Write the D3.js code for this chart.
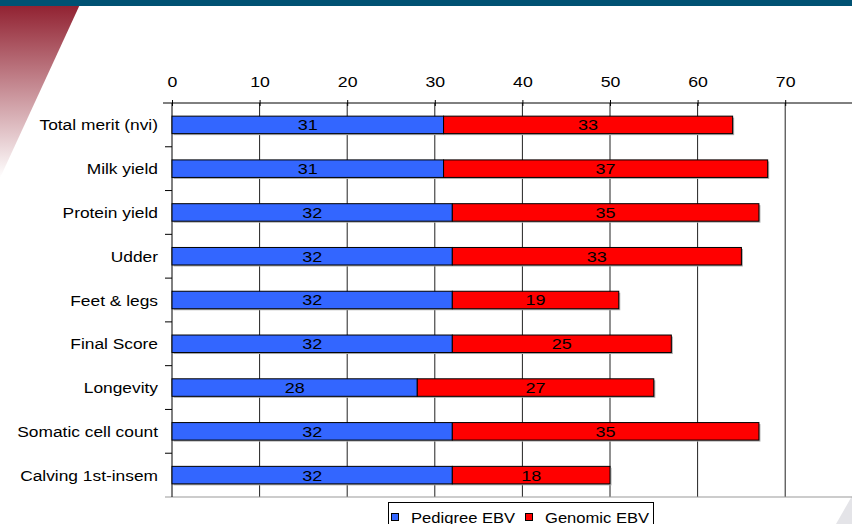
<!DOCTYPE html>
<html lang='en'>
    <head>
        <meta charset="utf-8">
        <title>Pedigree vs Genomic EBV</title>
        <script src='https://d3js.org/d3.v7.min.js'></script>
        <style>
            body { margin: 0; background: #fff; }
            svg { display: block; font-family: 'Liberation Sans', Arial, sans-serif; }
        </style>
    </head>
    <body>
        <script type='text/javascript'>
            var w = 852;
            var h = 524;

            // data
            var categories = ['Total merit (nvi)', 'Milk yield', 'Protein yield', 'Udder', 'Feet & legs',
                              'Final Score', 'Longevity', 'Somatic cell count', 'Calving 1st-insem'];
            var pedigree = [31, 31, 32, 32, 32, 32, 28, 32, 32];
            var genomic = [33, 37, 35, 33, 19, 25, 27, 35, 18];
            var xTicks = [0, 10, 20, 30, 40, 50, 60, 70];
            var seriesNames = ['Pedigree EBV', 'Genomic EBV'];
            var colors = ['#3366ff', '#ff0000'];

            var plotLeft = 172, plotTop = 103, plotBottom = 497;

            // the original slide text is a bit wider than plain Arial
            function stretched(x, y, sx) {
                return 'translate(' + x + ',' + y + ') scale(' + sx + ',1)';
            }

            var xScale = d3.scaleLinear()
                .domain([0, 80])
                .range([plotLeft, plotLeft + 80 * 8.76]);

            var yScale = d3.scaleBand()
                .domain(categories)
                .range([plotTop, plotBottom])
                .paddingInner(0.6)
                .paddingOuter(0.3);

            var svg = d3.select('body')
                        .append('svg')
                        .attr('width', w)
                        .attr('height', h);

            // background decoration
            var defs = svg.append('defs');
            var grad = defs.append('linearGradient')
                .attr('id', 'redfade')
                .attr('x1', 0).attr('y1', 0).attr('x2', 0).attr('y2', 1);
            grad.append('stop').attr('offset', '0%').attr('stop-color', '#8e1b2b');
            grad.append('stop').attr('offset', '100%').attr('stop-color', '#ffffff');
            svg.append('path')
                .attr('d', 'M0,0 L82,0 L0,178 Z')
                .attr('fill', 'url(#redfade)');
            svg.append('rect')
                .attr('x', 0).attr('y', 0)
                .attr('width', w).attr('height', 6)
                .attr('fill', '#005273');
            svg.append('path')
                .attr('d', 'M852,496 L852,524 L836,524 Z')
                .attr('fill', '#e4e4e8');

            // vertical gridlines
            svg.selectAll('line.grid')
                .data(xTicks.slice(1))
                .enter()
                .append('line')
                .attr('class', 'grid')
                .attr('x1', function(d){ return xScale(d); })
                .attr('x2', function(d){ return xScale(d); })
                .attr('y1', plotTop)
                .attr('y2', plotBottom)
                .attr('stroke', '#222')
                .attr('stroke-width', 1);

            // top axis, ticks cross the line
            var xAxis = d3.axisTop(xScale)
                .tickValues(xTicks)
                .tickSize(3)
                .tickSizeOuter(0);
            var gx = svg.append('g')
                .attr('transform', 'translate(0,' + plotTop + ')')
                .call(xAxis);
            gx.select('.domain').remove();
            gx.append('line')
                .attr('x1', plotLeft - 9).attr('x2', w)
                .attr('y1', 0).attr('y2', 0)
                .attr('stroke', '#000');
            gx.selectAll('.tick line')
                .attr('y1', 3)
                .attr('stroke', '#000');
            gx.selectAll('.tick text')
                .attr('font-size', '15px')
                .attr('fill', '#000')
                .attr('font-family', 'Liberation Sans, Arial, sans-serif')
                .attr('y', null)
                .attr('dy', null)
                .attr('transform', stretched(0, -15.7, 1.18));

            // bottom line
            svg.append('line')
                .attr('x1', plotLeft - 7).attr('x2', w)
                .attr('y1', plotBottom).attr('y2', plotBottom)
                .attr('stroke', '#999');

            // left axis
            svg.append('line')
                .attr('x1', plotLeft).attr('x2', plotLeft)
                .attr('y1', plotTop).attr('y2', plotBottom)
                .attr('stroke', '#000');
            var boundaries = categories.map(function(d, i){ return i; }).slice(1);
            var bandH = (plotBottom - plotTop) / categories.length;
            svg.selectAll('line.ytick')
                .data(boundaries)
                .enter()
                .append('line')
                .attr('class', 'ytick')
                .attr('x1', plotLeft - 7).attr('x2', plotLeft)
                .attr('y1', function(d){ return plotTop + d * bandH; })
                .attr('y2', function(d){ return plotTop + d * bandH; })
                .attr('stroke', '#000');

            svg.selectAll('text.cat')
                .data(categories)
                .enter()
                .append('text')
                .attr('class', 'cat')
                .attr('transform', function(d){
                    return stretched(158, yScale(d) + yScale.bandwidth() / 2, 1.12);
                })
                .attr('dy', '0.36em')
                .attr('text-anchor', 'end')
                .attr('font-size', '15.5px')
                .attr('fill', '#000')
                .text(function(d){ return d; });

            // stacked bars
            var rows = categories.map(function(c, i){
                return [
                    { cat: c, x0: 0, x1: pedigree[i], v: pedigree[i], s: 0 },
                    { cat: c, x0: pedigree[i], x1: pedigree[i] + genomic[i], v: genomic[i], s: 1 }
                ];
            });
            var segs = [].concat.apply([], rows);

            // shadow
            svg.selectAll('rect.shadow')
                .data(rows)
                .enter()
                .append('rect')
                .attr('class', 'shadow')
                .attr('x', function(d){ return xScale(0) + 1.5; })
                .attr('y', function(d){ return yScale(d[0].cat) + 1.5; })
                .attr('width', function(d){ return xScale(d[1].x1) - xScale(0); })
                .attr('height', yScale.bandwidth())
                .attr('fill', '#aaa');

            svg.selectAll('rect.seg')
                .data(segs)
                .enter()
                .append('rect')
                .attr('class', 'seg')
                .attr('x', function(d){ return xScale(d.x0); })
                .attr('y', function(d){ return yScale(d.cat); })
                .attr('width', function(d){ return xScale(d.x1) - xScale(d.x0); })
                .attr('height', yScale.bandwidth())
                .attr('fill', function(d){ return colors[d.s]; })
                .attr('stroke', '#000')
                .attr('stroke-width', 1);

            svg.selectAll('text.val')
                .data(segs)
                .enter()
                .append('text')
                .attr('class', 'val')
                .attr('transform', function(d){
                    return stretched((xScale(d.x0) + xScale(d.x1)) / 2,
                                     yScale(d.cat) + yScale.bandwidth() / 2, 1.2);
                })
                .attr('dy', '0.36em')
                .attr('text-anchor', 'middle')
                .attr('font-size', '15px')
                .attr('fill', '#000')
                .text(function(d){ return d.v; });

            // legend
            var lg = svg.append('g').attr('transform', 'translate(388,502)');
            lg.append('rect')
                .attr('x', 0.5).attr('y', 0.5)
                .attr('width', 265).attr('height', 26)
                .attr('fill', '#fff')
                .attr('stroke', '#000');
            var items = lg.selectAll('g.item')
                .data(seriesNames)
                .enter()
                .append('g')
                .attr('class', 'item')
                .attr('transform', function(d, i){ return 'translate(' + (3 + i * 134) + ',0)'; });
            items.append('rect')
                .attr('x', 0.5).attr('y', 11.5)
                .attr('width', 7).attr('height', 7)
                .attr('fill', function(d, i){ return colors[i]; })
                .attr('stroke', '#000');
            items.append('text')
                .attr('transform', stretched(20, 21, 1.07))
                .attr('font-size', '15.5px')
                .attr('fill', '#000')
                .text(function(d){ return d; });
        </script>
    </body>
</html>
